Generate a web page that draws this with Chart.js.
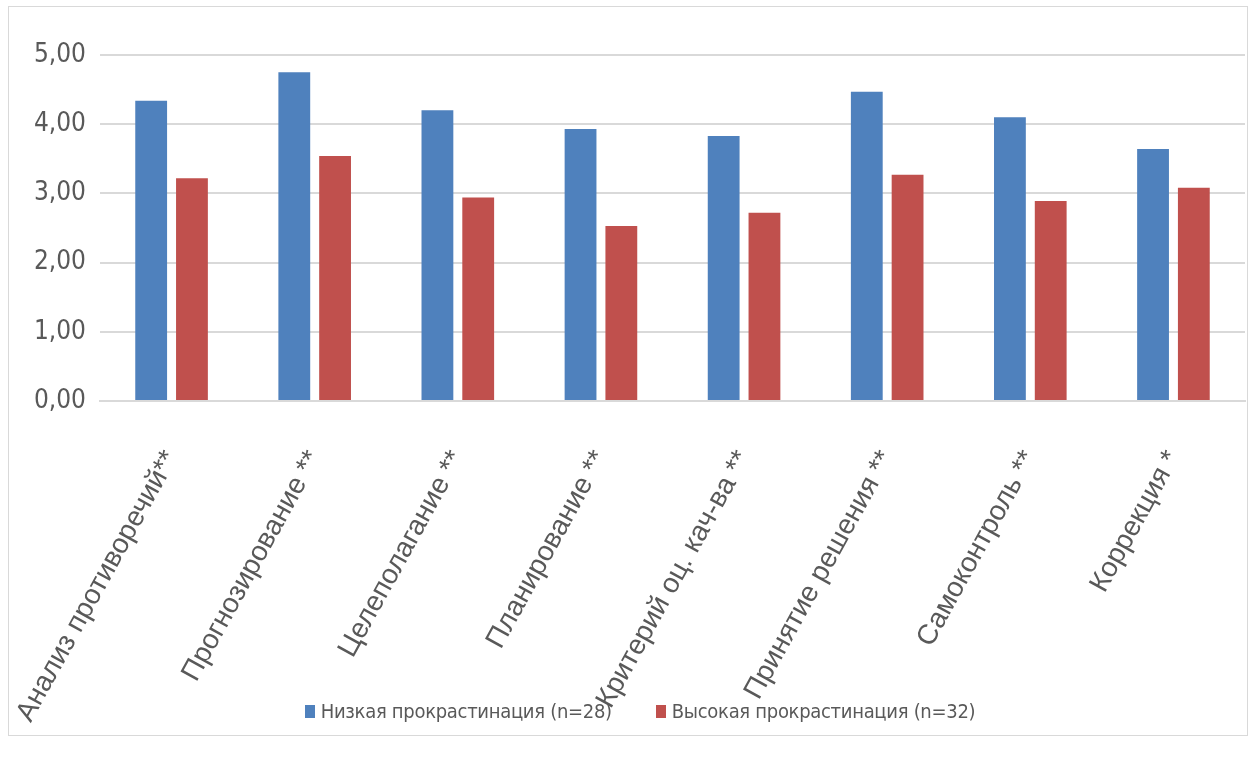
<!DOCTYPE html>
<html>
<head>
<meta charset="utf-8">
<script src="https://cdn.jsdelivr.net/npm/chart.js"></script>
<style>
  html, body { margin: 0; padding: 0; background: #fff; }
  #wrap { position: relative; width: 1256px; height: 758px; }
  #frame { position: absolute; left: 8px; top: 6px; width: 1240px; height: 730px;
           border: 1px solid #d9d9d9; box-sizing: border-box; pointer-events: none; }
  #legend { position: absolute; top: 699px; left: 0; width: 1256px; display: flex;
            justify-content: center; gap: 44px; padding-left: 24px; box-sizing: border-box;
            font-family: "DejaVu Sans Condensed", "Liberation Sans Narrow", sans-serif;
            font-size: 20px; color: #595959; letter-spacing: -0.3px; }
  #legend span.box { display: inline-block; width: 10px; height: 13px; margin-right: 6px; }
</style>
</head>
<body>
<div id="wrap">
  <canvas id="chart" width="1256" height="758"></canvas>
  <div id="frame"></div>
  <div id="legend"></div>
</div>
<script>
// данные
var categories = ['Анализ противоречий**', 'Прогнозирование **', 'Целеполагание **', 'Планирование **',
  'Критерий оц. кач-ва **', 'Принятие решения **', 'Самоконтроль **', 'Коррекция *'];
var lowLabel = 'Низкая прокрастинация (n=28)';
var highLabel = 'Высокая прокрастинация (n=32)';
var lowValues = [4.34, 4.75, 4.20, 3.93, 3.83, 4.47, 4.10, 3.64];
var highValues = [3.22, 3.54, 2.94, 2.53, 2.72, 3.27, 2.89, 3.08];
var yTicks = [0, 1, 2, 3, 4, 5];

var colors = ['#4f81bd', '#c0504d'];
var labelFont = '"DejaVu Sans Condensed", "Liberation Sans Narrow", sans-serif';

var ctx = document.getElementById('chart').getContext('2d');
var chart = new Chart(ctx, {
  type: 'bar',
  data: {
    labels: categories,
    datasets: [
      { label: lowLabel, data: lowValues, backgroundColor: colors[0] },
      { label: highLabel, data: highValues, backgroundColor: colors[1] }
    ]
  },
  options: {
    responsive: false,
    animation: false,
    layout: { padding: { left: 8, right: 11, top: 55, bottom: 0 } },
    datasets: { bar: { categoryPercentage: 0.57, barPercentage: 0.78 } },
    plugins: { legend: { display: false }, tooltip: { enabled: false } },
    scales: {
      x: {
        grid: { display: false },
        border: { color: '#d9d9d9', width: 2 },
        ticks: {
          autoSkip: false, minRotation: 61, maxRotation: 61, padding: 36,
          color: '#595959', font: { family: 'Liberation Sans, sans-serif', size: 28 }
        },
        afterFit: function(scale) {
          scale.height = 357;
          scale.paddingLeft = 0;
          scale.paddingRight = 0;
        }
      },
      y: {
        min: 0, max: 5,
        afterBuildTicks: function(scale) {
          scale.ticks = yTicks.map(function(v) { return { value: v }; });
        },
        grid: { color: '#d9d9d9', lineWidth: 2, drawTicks: false },
        border: { display: false },
        ticks: {
          padding: 14, color: '#595959', font: { family: labelFont, size: 26 },
          callback: function(v) { return v.toFixed(2).replace('.', ','); }
        },
        afterFit: function(scale) { scale.width = 92; }
      }
    }
  }
});

// легенда
var legend = document.getElementById('legend');
chart.data.datasets.forEach(function(ds) {
  var item = document.createElement('div');
  item.innerHTML = '<span class="box" style="background:' + ds.backgroundColor + '"></span>' + ds.label;
  legend.appendChild(item);
});
</script>
</body>
</html>
